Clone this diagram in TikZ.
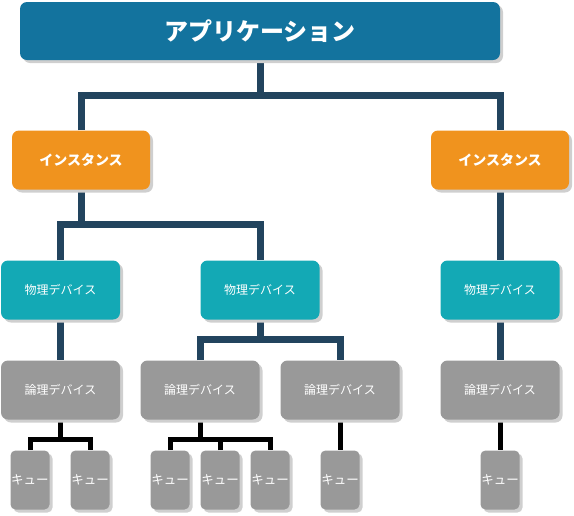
\documentclass[tikz,border=0pt]{standalone}
\usepackage{fontspec}
\newfontfamily\jp{Noto Sans CJK JP}
\usetikzlibrary{shadows,backgrounds}
\definecolor{appblue}{HTML}{13739E}
\definecolor{instorange}{HTML}{F0931E}
\definecolor{physteal}{HTML}{13A9B5}
\definecolor{loggray}{HTML}{999999}
\definecolor{navy}{HTML}{22445E}
\definecolor{shadowgray}{HTML}{CFCFCF}
\tikzset{
  box/.style={rounded corners=7pt, inner sep=0pt, text=white,
    drop shadow={shadow xshift=3pt, shadow yshift=-3pt, fill=shadowgray, opacity=1}},
  appbox/.style={box, fill=appblue, minimum width=480pt, minimum height=58pt, font=\jp\bfseries\fontsize{24}{26}\selectfont},
  instbox/.style={box, fill=instorange, minimum width=138pt, minimum height=59pt, font=\jp\bfseries\fontsize{14}{16}\selectfont},
  physbox/.style={box, fill=physteal, minimum width=119pt, minimum height=59pt, font=\jp\fontsize{12}{14}\selectfont},
  logbox/.style={box, fill=loggray, minimum width=119pt, minimum height=59pt, font=\jp\fontsize{12}{14}\selectfont},
  qbox/.style={box, rounded corners=5pt, fill=loggray, minimum width=39pt, minimum height=59pt, font=\jp\fontsize{12.5}{14}\selectfont},
  conn/.style={draw=navy, line width=7pt},
  qconn/.style={draw=black, line width=5pt},
}
\begin{document}
\begin{tikzpicture}[x=1pt,y=-1pt]
\useasboundingbox (0,0) rectangle (574,515);
\node[appbox] (app) at (260,31) {アプリケーション};
\node[instbox] (i1) at (81,160) {インスタンス};
\node[instbox] (i2) at (500,160) {インスタンス};
\node[physbox] (p1) at (60.5,290) {物理デバイス};
\node[physbox] (p2) at (260,290) {物理デバイス};
\node[physbox] (p3) at (500,290) {物理デバイス};
\node[logbox] (l1) at (60.5,390) {論理デバイス};
\node[logbox] (l2) at (200,390) {論理デバイス};
\node[logbox] (l3) at (340,390) {論理デバイス};
\node[logbox] (l4) at (500,390) {論理デバイス};
\node[qbox] (q1) at (30,480) {キュー};
\node[qbox] (q2) at (90,480) {キュー};
\node[qbox] (q3) at (170,480) {キュー};
\node[qbox] (q4) at (220,480) {キュー};
\node[qbox] (q5) at (270,480) {キュー};
\node[qbox] (q6) at (340,480) {キュー};
\node[qbox] (q7) at (500,480) {キュー};
\begin{scope}[on background layer]
\draw[conn] (app.south) -- ++(0,35) coordinate (a1);
\draw[conn] (i1.north) |- (a1) -| (i2.north);
\draw[conn] (i1.south) -- ++(0,35) coordinate (b1);
\draw[conn] (p1.north) |- (b1) -| (p2.north);
\draw[conn] (i2.south) -- (p3.north);
\draw[conn] (p1.south) -- (l1.north);
\draw[conn] (p2.south) -- ++(0,20) coordinate (c1);
\draw[conn] (l2.north) |- (c1) -| (l3.north);
\draw[conn] (p3.south) -- (l4.north);
\draw[qconn] (l1.south) -- ++(0,20) coordinate (d1);
\draw[qconn] (q1.north) |- (d1) -| (q2.north);
\draw[qconn] (l2.south) -- ++(0,20) coordinate (d2);
\draw[qconn] (q3.north) |- (d2) -| (q5.north);
\draw[qconn] (q4.north) -- (q4.north |- d2);
\draw[qconn] (l3.south) -- (q6.north);
\draw[qconn] (l4.south) -- (q7.north);
\end{scope}
\end{tikzpicture}
\end{document}
